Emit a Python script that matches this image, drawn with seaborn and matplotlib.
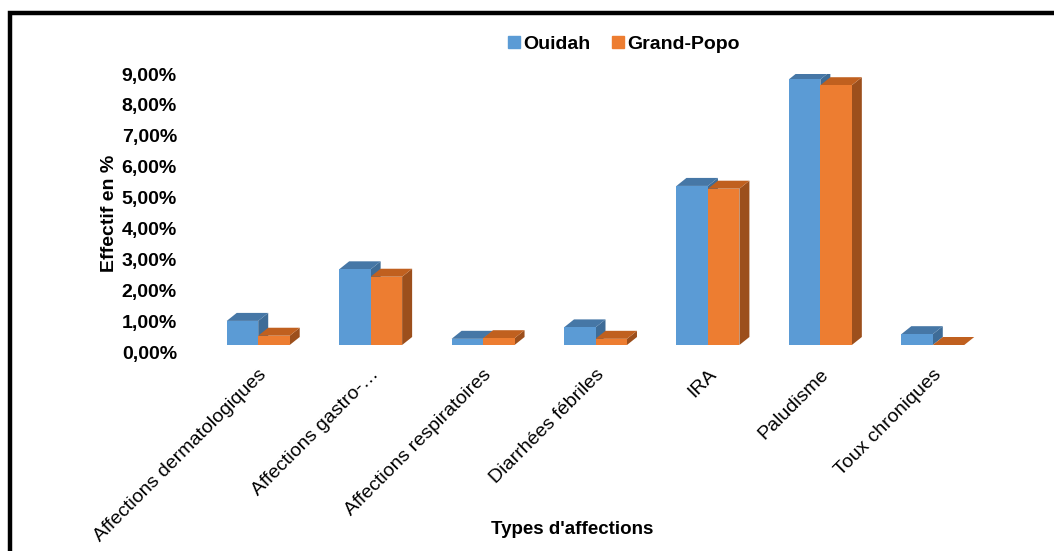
import pandas as pd
import matplotlib.pyplot as plt
import seaborn as sns
from matplotlib.patches import Polygon, Rectangle
from matplotlib.transforms import IdentityTransform, ScaledTranslation
from matplotlib.lines import Line2D

# ------------------------------------------------------- #
#                         DONNEES                         #
# ------------------------------------------------------- #
affections = ['Affections dermatologiques', 'Affections gastro-…',
              'Affections respiratoires', 'Diarrhées fébriles',
              'IRA', 'Paludisme', 'Toux chroniques']
ouidah = [0.78, 2.45, 0.20, 0.57, 5.15, 8.60, 0.35]
grand_popo = [0.30, 2.21, 0.22, 0.20, 5.06, 8.41, 0.0]
localites = ['Ouidah', 'Grand-Popo']

df = pd.DataFrame({
    'affection': affections * 2,
    'localite': ['Ouidah'] * len(affections) + ['Grand-Popo'] * len(affections),
    'effectif': ouidah + grand_popo,
})

couleurs = {'Ouidah': '#5B9BD5', 'Grand-Popo': '#ED7D31'}
dessus = {'Ouidah': '#4677A6', 'Grand-Popo': '#C0601F'}
cote = {'Ouidah': '#3E6C97', 'Grand-Popo': '#9C4F1C'}

# ------------------------------------------------------- #
#                         GRAPHIQUE                       #
# ------------------------------------------------------- #
sns.set_style('white')
plt.rcParams['font.family'] = ['Liberation Sans', 'DejaVu Sans']
plt.rcParams['text.color'] = 'black'
plt.rcParams['xtick.color'] = 'black'
plt.rcParams['ytick.color'] = 'black'
plt.rcParams['axes.labelcolor'] = 'black'

fig = plt.figure(figsize=(10.54, 5.51), dpi=100)
ax = fig.add_axes([202 / 1054, 199 / 551, 787 / 1054, 278 / 551])

sns.barplot(data=df, x='affection', y='effectif', hue='localite',
            hue_order=localites, palette=couleurs, width=0.56,
            saturation=1, linewidth=0, ax=ax, legend=False)

ax.set_ylim(0, 9)
ax.set_xlim(-0.5, len(affections) - 0.5)
ax.set_yticks(range(0, 10))
ax.set_yticklabels([f'{v},00%' for v in range(0, 10)],
                   fontsize=14, fontweight='bold')
ax.tick_params(axis='y', length=0, pad=18)
ax.tick_params(axis='x', length=0, pad=10)
ax.set_xticks(range(len(affections)))
ax.set_xticklabels(affections, rotation=45, ha='right',
                   rotation_mode='anchor', fontsize=14)
for s in ax.spines.values():
    s.set_visible(False)

ax.set_xlabel("Types d'affections", fontsize=13.5, fontweight='bold')
ax.xaxis.set_label_coords((572 - 202) / 787, (352 - 521) / 278)
ax.set_ylabel('Effectif en %', fontsize=14, fontweight='bold')
ax.yaxis.set_label_coords((118 - 202) / 787, 0.5)

# effet 3D : decalage de profondeur
fig.canvas.draw()
dx, dy = 10, 8
decal = ScaledTranslation(0, 0.07, fig.dpi_scale_trans)
n = len(affections)
for i, p in enumerate(ax.patches[:2 * n]):
    loc = localites[i // n]
    p.set_transform(ax.transData + decal)
    p.set_zorder(3)
    (x0, y0), (x1, y1) = (ax.transData + decal).transform(
        [(p.get_x(), 0), (p.get_x() + p.get_width(), p.get_height())])
    top = [(x0, y1), (x1, y1), (x1 + dx, y1 + dy), (x0 + dx, y1 + dy)]
    side = [(x1, y0), (x1 + dx, y0 + dy), (x1 + dx, y1 + dy), (x1, y1)]
    ax.add_patch(Polygon(side, closed=True, facecolor=cote[loc],
                         edgecolor='none', transform=IdentityTransform(),
                         zorder=2))
    ax.add_patch(Polygon(top, closed=True, facecolor=dessus[loc],
                         edgecolor='none', transform=IdentityTransform(),
                         zorder=2))

# legende
poignees = [Line2D([], [], marker='s', linestyle='', markersize=8,
                   color=couleurs[l]) for l in localites]
fig.legend(poignees, localites, loc='center', ncol=2, frameon=False,
           bbox_to_anchor=(622 / 1054, 1 - 44 / 551),
           prop={'weight': 'bold', 'size': 14}, handletextpad=0.0,
           columnspacing=0.9, handlelength=1.0)

# cadre
fig.add_artist(Rectangle((10 / 1054, -0.2), 1.2, 1.2 - 12.5 / 551,
                         transform=fig.transFigure, fill=False,
                         edgecolor='black', linewidth=3.2, clip_on=False))

fig.savefig('out.png', dpi=100)
